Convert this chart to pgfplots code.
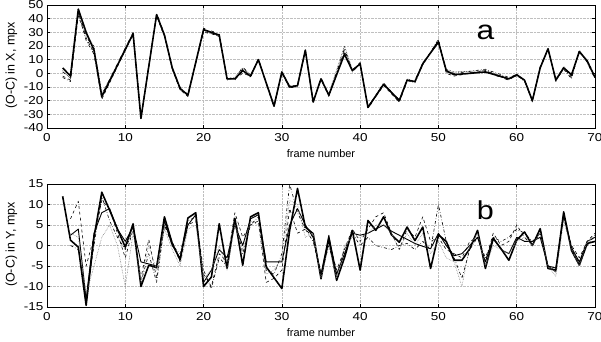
\documentclass[border=0pt]{standalone}
\usepackage{fontspec}
\setmainfont{Liberation Sans}
\newfontfamily\tickfont{Liberation Sans}[FakeStretch=1.18]
\usepackage{pgfplots}
\pgfplotsset{compat=1.18}

\pgfplotsset{
  panel/.style={
    scale only axis,
    width=548bp, height=123bp,
    xmin=0, xmax=70,
    xtick={0,10,...,70},
    grid=major,
    grid style={densely dotted, gray!50, line width=0.5pt},
    tick align=inside,
    major tick length=3bp,
    tick style={black, line width=0.6pt},
    axis line style={line width=0.9pt},
    tick label style={font=\tickfont\fontsize{11.5}{11.5}\selectfont},
    xticklabel style={yshift=-2bp},
    /pgf/number format/assume math mode=true,
    xlabel={frame number},
    xlabel style={font=\fontsize{11}{11}\selectfont, yshift=-1bp},
    ylabel style={font=\fontsize{12.5}{12.5}\selectfont, xshift=1bp},
    every axis plot/.append style={black, line width=0.6pt, line join=round},
  },
  main/.style={line width=1.6pt},
}

\begin{document}
\begin{tikzpicture}
% ---- panel a: O-C in X ----
\begin{axis}[panel,
    ymin=-40, ymax=50, ytick={-40,-30,...,50},
    ylabel={(O-C) in X, mpx}]
\addplot[main] coordinates {
(2,4) (3,-2) (4,47) (5,30) (6,17) (7,-17) (11,29) (12,-33) (14,43) (15,28)
(16,4) (17,-11) (18,-16) (20,32) (22,28) (23,-4) (24,-4) (25,2) (26,-2) (27,10)
(29,-24) (30,1) (31,-10) (32,-9) (33,17) (34,-21) (35,-4) (36,-16) (38,14) (39,2)
(40,7) (41,-25) (43,-8) (45,-20) (46,-5) (47,-6) (48,7) (50,23) (51,2) (52,-1)
(56,1) (59,-4) (60,-1) (61,-5) (62,-20) (63,4) (64,18) (65,-5) (66,4) (67,-1)
(68,16) (69,9) (70,-3)};
\addplot[dashed] coordinates {
(2,-2) (3,-5) (4,42) (5,26) (6,15) (7,-19) (11,29) (12,-33) (14,42) (15,27)
(16,3) (17,-12) (18,-17) (20,31) (22,27) (23,-4) (24,-4) (25,0) (26,-2) (27,10)
(29,-24) (30,0) (31,-11) (32,-9) (33,16) (34,-21) (35,-4) (36,-16) (38,15) (39,2)
(40,7) (41,-25) (43,-9) (45,-21) (46,-5) (47,-6) (48,7) (50,24) (51,0) (52,-2)
(56,2) (59,-5) (60,-1) (61,-5) (62,-20) (63,4) (64,18) (65,-5) (66,4) (67,-3)
(68,16) (69,9) (70,-3)};
\addplot[densely dotted] coordinates {
(2,2) (3,-4) (4,44) (5,28) (6,20) (7,-15) (11,28) (12,-32) (14,42) (15,27)
(16,4) (17,-11) (18,-16) (20,32) (22,27) (23,-5) (24,-3) (25,4) (26,-1) (27,10)
(29,-23) (30,1) (31,-10) (32,-10) (33,16) (34,-20) (35,-5) (36,-15) (38,20) (39,3)
(40,7) (41,-24) (43,-8) (45,-19) (46,-4) (47,-6) (48,8) (50,22) (51,3) (52,1)
(56,2) (59,-4) (60,-2) (61,-5) (62,-19) (63,5) (64,17) (65,-4) (66,5) (67,-2)
(68,15) (69,10) (70,-2)};
\addplot[dashdotted] coordinates {
(2,-3) (3,-6) (4,45) (5,24) (6,14) (7,-18) (11,29) (12,-33) (14,43) (15,28)
(16,3) (17,-12) (18,-15) (20,30) (22,28) (23,-3) (24,-4) (25,3) (26,-3) (27,11)
(29,-24) (30,0) (31,-9) (32,-9) (33,17) (34,-21) (35,-4) (36,-17) (38,17) (39,1)
(40,7) (41,-25) (43,-7) (45,-20) (46,-5) (47,-7) (48,6) (50,25) (51,1) (52,0)
(56,3) (59,-3) (60,-1) (61,-6) (62,-20) (63,4) (64,18) (65,-5) (66,3) (67,-4)
(68,17) (69,8) (70,-4)};
\addplot[loosely dashed] coordinates {
(2,1) (3,-3) (4,46) (5,27) (6,18) (7,-16) (11,30) (12,-32) (14,44) (15,29)
(16,4) (17,-10) (18,-16) (20,33) (22,29) (23,-4) (24,-5) (25,5) (26,-2) (27,10)
(29,-25) (30,1) (31,-11) (32,-8) (33,17) (34,-22) (35,-3) (36,-16) (38,18) (39,2)
(40,8) (41,-26) (43,-8) (45,-21) (46,-6) (47,-5) (48,7) (50,24) (51,2) (52,0)
(56,1) (59,-5) (60,-1) (61,-5) (62,-21) (63,5) (64,18) (65,-6) (66,4) (67,-2)
(68,16) (69,9) (70,-3)};
\node[font=\tickfont\fontsize{27}{27}\selectfont] at (axis cs:56,30) {a};
\end{axis}

% ---- panel b: O-C in Y ----
\begin{axis}[panel, at={(0,-179bp)},
    ymin=-15, ymax=15, ytick={-15,-10,...,15},
    ylabel={(O-C) in Y, mpx}]
\addplot[main] coordinates {
(2,12) (3,1.3) (4,-0.4) (5,-14.6) (6,2) (7,13) (8,8.6) (9,4) (10,-0.4) (11,5.3)
(12,-10) (13,-4.8) (14,-5.4) (15,7) (16,0.5) (17,-3.5) (18,6.7) (19,8) (20,-10) (21,-7.7)
(22,5.3) (23,-5.6) (24,6.6) (25,-4.8) (26,7) (27,8) (28,-5.2) (30,-10.5) (31,3.7) (32,13.9)
(33,4.5) (34,2.9) (35,-8.1) (36,1.7) (37,-8.5) (38,-3) (39,3.7) (40,-6) (41,6.1) (42,3.7)
(43,7) (44,2.6) (45,0.8) (46,4.5) (47,1.2) (48,4.5) (49,-5.6) (50,2.6) (51,1) (52,-3.6)
(53,-3.6) (54,-0.8) (55,3.7) (56,-5.6) (57,1.7) (58,-0.8) (59,-3.6) (60,1.3) (61,3.3) (62,0)
(63,4.1) (64,-5.6) (65,-6) (66,8.2) (67,-1.2) (68,-4.8) (69,0.5) (70,1)};
\addplot[line width=0.9pt] coordinates {
(3,2.5) (4,4) (5,-13) (6,3) (7,8) (8,9) (9,4) (10,1) (11,4.5) (12,-4)
(13,-4.5) (14,-5) (15,6) (16,0) (17,-3) (18,5) (19,7.5) (20,-9) (21,-6) (22,-1)
(23,-3) (24,5) (25,0) (26,6.5) (27,7.5) (28,-4) (30,-4) (31,5) (32,9) (33,5)
(34,2) (35,-7) (36,2.5) (37,-7) (38,-2) (39,3) (40,2.5) (41,3) (42,4) (43,5)
(44,3.5) (45,2.5) (46,1.5) (47,0.5) (48,-0.2) (49,-0.8) (50,3) (51,0) (52,-2.5) (53,-2)
(54,0) (55,2) (56,-4) (57,2) (58,-1) (59,-2) (60,2) (61,1) (62,1) (63,2)
(64,-5) (65,-5.5) (66,7.5) (67,-0.5) (68,-4) (69,1) (70,2)};
\addplot[dashed] coordinates {
(3,6.5) (4,10.8) (5,-5) (6,2) (7,11) (8,9) (9,3) (10,-3) (11,4) (12,-8)
(13,1.5) (14,-8) (15,5) (16,1) (17,-4) (18,5) (19,6) (20,-7) (21,-10) (22,-2)
(23,-4) (24,8) (25,2) (26,5) (27,6) (28,-9) (29,-8) (30,-6) (31,9) (32,3)
(33,4) (34,2) (35,-7) (36,1) (37,-6) (38,-1) (39,4) (40,1) (41,4) (42,7)
(43,8) (44,3) (45,-1) (46,4) (47,2) (48,7) (49,1) (50,2) (51,-1) (52,-2)
(53,-3) (54,1) (55,2) (56,-4) (57,3) (58,0) (59,1) (60,5) (61,2) (62,0)
(63,3) (64,-5) (65,-6.5) (66,7) (67,0) (68,-3) (69,1) (70,3)};
\addplot[densely dotted, gray] coordinates {
(3,3) (4,2) (5,-12) (6,-5) (7,2) (8,5) (9,0) (10,-10) (11,3) (12,-9)
(13,0) (14,-6) (15,4) (16,-1) (17,-5) (18,4) (19,5) (20,-8) (21,-6) (22,0)
(23,-6) (24,5) (25,-1) (26,6) (27,5) (28,-7) (29,-6) (30,-3) (31,11) (32,10)
(33,2) (34,3) (35,-8) (36,0) (37,-8) (38,0) (39,2) (40,2) (41,3) (42,5)
(43,5) (44,3) (45,-1) (46,3) (47,0) (48,3) (49,-2) (50,1) (51,-3) (52,-4)
(53,-10) (54,0) (55,3) (56,-5) (57,0) (58,-1) (59,-2) (60,1) (61,2) (62,0)
(63,3) (64,-5) (65,-7.5) (66,6) (67,-1) (68,-5) (69,1) (70,2)};
\addplot[dashdotted] coordinates {
(3,0) (4,-1) (5,-13) (6,0) (7,12) (8,6) (9,2) (10,-1) (11,4) (12,-9)
(13,-2) (14,-9) (15,5) (16,0) (17,-2) (18,6) (19,7) (20,-6) (21,-10.5) (22,-3)
(23,-5) (24,7) (25,-2) (26,5) (27,7) (28,-6) (29,-7) (30,-2) (31,15) (32,8)
(33,4) (34,1) (35,-7) (36,0) (37,-7) (38,-1) (39,3) (40,0) (41,2) (42,0)
(43,-0.5) (44,-1) (45,0) (46,0.5) (47,-1) (48,1) (49,-1) (50,10) (51,1) (52,-3)
(53,-8) (54,-1) (55,2) (56,-3) (57,2) (58,1) (59,2) (60,4) (61,3) (62,1)
(63,3) (64,-5) (65,-6) (66,7) (67,-1) (68,-4) (69,0) (70,2.5)};
\node[font=\tickfont\fontsize{26}{26}\selectfont] at (axis cs:56,8.6) {b};
\end{axis}
\pgfresetboundingbox
\useasboundingbox (-47bp,-214bp) rectangle (554bp,128bp);
\end{tikzpicture}
\end{document}
